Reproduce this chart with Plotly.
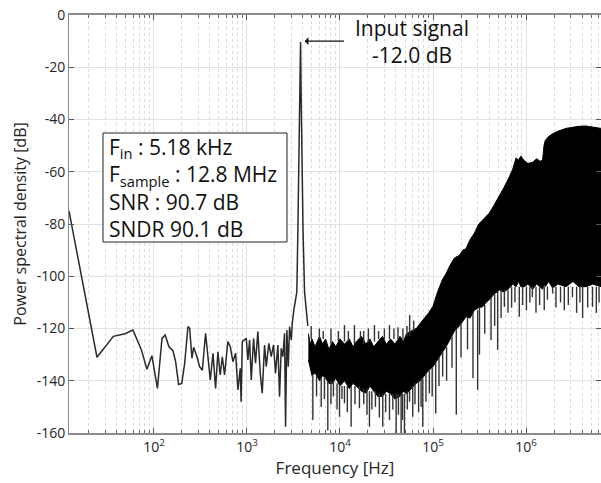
import numpy as np
import plotly.graph_objects as go

# ---------------- data ----------------
# low-frequency single line (Hz, dB)
low_f = [12.2, 24.4, 36.6, 48.8, 59.4, 73, 84, 95, 109, 122, 132, 145, 160, 171, 184, 199, 214,
         232, 242, 256, 267, 290, 310, 331, 359, 380, 403, 431, 460, 487, 516, 543, 574, 623,
         662, 706, 755, 799, 847, 865, 891, 983, 1023, 1067, 1112, 1177, 1236, 1309, 1389,
         1459, 1545, 1611, 1718, 1823, 1930, 2028, 2148, 2240, 2335, 2430, 2535, 2600, 2685,
         2780, 2871, 2994, 3070, 3193]
low_db = [-75, -131, -123, -122, -120.6, -128, -135.6, -130.4, -142.9, -123.8, -122.5, -127,
          -128.5, -132.7, -141.4, -141, -133.3, -119.3, -119.9, -131.4, -127.2, -130.8, -134.6,
          -136, -121.8, -130.8, -139.7, -129.5, -142.9, -128.9, -137.8, -130.8, -137.8, -125,
          -127, -132.7, -129.5, -143.5, -135.2, -148, -125, -123.8, -132, -124.4, -139.7,
          -123.8, -133.3, -121.2, -137.2, -144.8, -126.3, -134.6, -125.7, -130.8, -126.3,
          -137.2, -126.3, -146.1, -127.6, -130.8, -121.8, -157.6, -120.6, -134.6, -119.3,
          -124.4, -118, -112.9]

# input-signal peak
peak_f = [3436, 3524, 3631, 3715, 3767, 3819, 3890, 4009, 4159, 4508]
peak_db = [-106, -83, -55, -30, -10.3, -30, -55, -83, -106, -119]

# dense noise region: upper / lower edge of the solid black band
band_f = [4570, 4800, 5000, 5400, 6026, 6500, 7000, 7600, 8318, 9000, 10000, 11200, 12590,
          13800, 15000, 17000, 19050, 21000, 23000, 25500, 28580, 31500, 35000, 39000, 44160,
          48000, 52000, 58000, 66070, 73000, 81280, 90000, 100000, 112000, 125900, 138000,
          151400, 170000, 192300, 210000, 226500, 250000, 278600, 310000, 342000, 372000,
          403600, 450000, 516400, 580000, 662200, 720000, 781600, 830000, 880000, 959500,
          1050000, 1178000, 1300000, 1420000, 1508000, 1560000, 1610000, 1750000, 1932000,
          2200000, 2690000, 3200000, 3700000, 4415000, 5200000, 6400000]
band_hi = [-122, -126, -124, -127, -123, -126, -124, -128, -125, -127, -124, -126, -124, -127,
           -125, -123, -126, -124, -127, -125, -123, -126, -124, -126, -123, -125, -122, -121,
           -120, -118, -116, -114, -111.5, -106, -101.4, -99, -96, -93, -92, -90, -89.5, -86,
           -83.5, -80, -78.5, -77, -75.8, -73, -69.5, -66, -61.9, -59, -54.7, -55.5, -54,
           -55.8, -56.8, -56.4, -55, -56, -55.5, -50, -48, -46.5, -45.5, -44.5, -43.4, -43,
           -42.6, -42.5, -43, -43.4]
band_lo = [-132, -136, -138, -137, -140, -138, -139, -141, -141, -139, -142, -140, -143, -141,
           -142, -144, -144.7, -142, -144, -146, -146, -144, -145, -147, -146, -144, -145, -143,
           -141, -140, -138, -136, -134.6, -132, -129, -127, -124.4, -121, -119, -117, -115.5,
           -116, -113, -112, -111.7, -110, -109, -107, -105.3, -106, -104.5, -103, -104, -102,
           -104, -104, -103, -105, -103, -104, -105, -103, -104, -102, -104.5, -103, -104,
           -102, -104, -104, -103, -104]

# individual spikes: frequency, start level, end level
spike_f = [5105, 5600, 6281, 6800, 7396, 8000, 8500, 9300, 9886, 10500, 11170, 12000, 13180,
           14500, 16180, 18000, 19500, 20740, 22000, 24060, 26500, 28840, 31000, 34040, 37000,
           40180, 42500, 45420, 47000, 49320, 53000, 56000, 60560, 64000, 70000, 74500, 77600,
           84000, 91460, 98000, 107000, 116000, 127000, 140000, 160000, 178000, 200000, 235000,
           269000, 302000, 316000, 360000, 420700, 460000, 495500, 540000, 585000, 640000,
           700000, 760000, 847000, 920000, 1010000, 1100000, 1170000, 1280000, 1400000, 1570000,
           1700000, 1932000, 2100000, 2350000, 2580000, 2850000, 3160000, 3500000, 3800000,
           4060000, 4600000, 5190000, 5700000, 6100000,
           4900, 6000, 6600, 8000, 9600, 11170, 12300, 14300, 16600, 18000, 20200, 23470,
           26000, 30000, 34040, 38000, 42000, 47500, 52500, 56100, 62000]
spike_a = [-138, -138, -139, -139, -140, -140, -140, -141, -141, -142, -142, -142, -142, -142,
           -142, -143, -143, -144, -144, -144, -145, -145, -145, -145, -145, -145, -145, -145,
           -145, -145, -144, -144, -142, -141, -140, -139, -139, -137, -136, -135, -133, -131,
           -129, -127, -123, -120, -118, -116, -114, -113, -112, -111, -108, -107, -106, -105,
           -105, -105, -104, -104, -104, -104, -104, -104, -104, -104, -104, -104, -104, -104,
           -104, -104, -104, -104, -104, -104, -104, -104, -104, -104, -104, -104,
           -124, -124, -124, -126, -125, -125, -125, -126, -124, -126, -125, -125, -124, -124,
           -124, -124, -124, -124, -123, -123, -121]
spike_b = [-155, -146, -150, -147, -159, -149, -146, -151, -153.8, -147, -148.6, -152, -157.6,
           -149, -150.5, -149, -153, -157.6, -151, -150, -154, -157.6, -152, -155, -151, -160,
           -153, -160, -155, -160, -151, -148, -153.8, -149, -152, -150, -157.6, -148, -144.8,
           -146, -152.5, -142, -138.4, -140, -135, -153, -131, -128, -139, -143.5, -130, -122,
           -124.4, -119, -128.2, -116, -111.7, -114, -112, -110, -115.5, -111, -113, -110, -108,
           -114, -111, -113, -109, -106.6, -112, -110, -113, -111, -108, -114, -110, -116, -112,
           -111.7, -114, -110,
           -119, -120, -121, -120, -121, -118.7, -121, -118.7, -121, -121, -120, -118.7, -121,
           -120, -118.7, -120, -119.5, -120, -119, -114.8, -117]

y_ticks = [0, -20, -40, -60, -80, -100, -120, -140, -160]
x_ticks = [100, 1000, 10000, 100000, 1000000]
x_tick_text = ["10<sup>2</sup>", "10<sup>3</sup>", "10<sup>4</sup>", "10<sup>5</sup>", "10<sup>6</sup>"]

info_lines = ["F<sub>in</sub> : 5.18 kHz", "F<sub>sample</sub> : 12.8 MHz",
              "SNR : 90.7 dB", "SNDR 90.1 dB"]
sig_text = "Input signal<br>-12.0 dB"

# ---------------- figure ----------------
FONT = "Open Sans"
W, H = 601, 483
ML, MR, MT, MB = 69, 0, 15, 50
PW, PH = W - ML - MR, H - MT - MB


def px_x(px):
    return (px - ML) / PW


def px_y(py):
    return (H - MB - py) / PH


fig = go.Figure()

fig.add_trace(go.Scatter(x=low_f + peak_f, y=low_db + peak_db, mode="lines",
                         line=dict(color="#2a2a2a", width=1.5), showlegend=False))

fig.add_trace(go.Scatter(x=band_f, y=band_lo, mode="lines",
                         line=dict(color="black", width=1), showlegend=False))
fig.add_trace(go.Scatter(x=band_f, y=band_hi, mode="lines", fill="tonexty",
                         fillcolor="black", line=dict(color="black", width=1),
                         showlegend=False))

sx, sy = [], []
for f, a, b in zip(spike_f, spike_a, spike_b):
    sx += [f, f, None]
    sy += [a, b, None]
fig.add_trace(go.Scatter(x=sx, y=sy, mode="lines",
                         line=dict(color="#333333", width=1.4), showlegend=False))

minor_vals = [k * 10 ** d for d in range(1, 7) for k in range(2, 10)
              if 12.2 < k * 10 ** d < 6.4e6]

fig.update_layout(
    width=W, height=H,
    margin=dict(l=ML, r=MR, t=MT, b=MB),
    paper_bgcolor="white", plot_bgcolor="white",
    font=dict(family=FONT, color="#262626", size=14),
    xaxis=dict(
        type="log", range=[np.log10(12.207), np.log10(6.4e6)],
        tickvals=x_ticks, ticktext=x_tick_text,
        ticks="inside", ticklen=5, tickcolor="#555555",
        showline=True, linecolor="#8c8c8c", linewidth=1.5, mirror="ticks",
        showgrid=True, gridcolor="#e2e2e2", gridwidth=1,
        minor=dict(tickvals=minor_vals, ticks="inside", ticklen=3, tickcolor="#666666",
                   showgrid=True, gridcolor="#dadada", griddash="dot", gridwidth=1),
        title=dict(text="Frequency [Hz]", font=dict(size=17), standoff=8),
        zeroline=False,
    ),
    yaxis=dict(
        range=[-160, 0], tickvals=y_ticks, ticktext=[str(v) for v in y_ticks],
        ticks="inside", ticklen=5, tickcolor="#555555",
        showline=True, linecolor="#8c8c8c", linewidth=1, mirror="ticks",
        showgrid=True, gridcolor="#e2e2e2", gridwidth=1,
        title=dict(text="Power spectral density [dB]", font=dict(size=16), standoff=6),
        zeroline=False,
    ),
)

# info box
fig.add_shape(type="rect", xref="paper", yref="paper",
              x0=px_x(103), x1=px_x(287), y0=px_y(242), y1=px_y(133),
              line=dict(color="#222222", width=1), fillcolor="white", layer="above")
fig.add_annotation(xref="paper", yref="paper", x=px_x(108), y=px_y(188),
                   xanchor="left", yanchor="middle", align="left",
                   text="<br>".join(info_lines), showarrow=False, borderpad=0,
                   font=dict(family=FONT, size=21, color="#111111"))

# input signal label and arrow
fig.add_annotation(
    xref="x", yref="y", x=np.log10(4160), y=-10, ax=41, ay=0,
    text="", showarrow=True, arrowhead=1, arrowsize=1, arrowwidth=1.3, arrowcolor="#111111",
)
fig.add_annotation(
    xref="paper", yref="paper", x=px_x(412), y=px_y(41), text=sig_text, showarrow=False,
    xanchor="center", yanchor="middle",
    font=dict(family=FONT, size=21, color="#111111"), align="center",
)

fig.write_html("out.html", config={"displayModeBar": False},
               post_script="document.body.style.margin='0';document.body.style.overflow='hidden';")
